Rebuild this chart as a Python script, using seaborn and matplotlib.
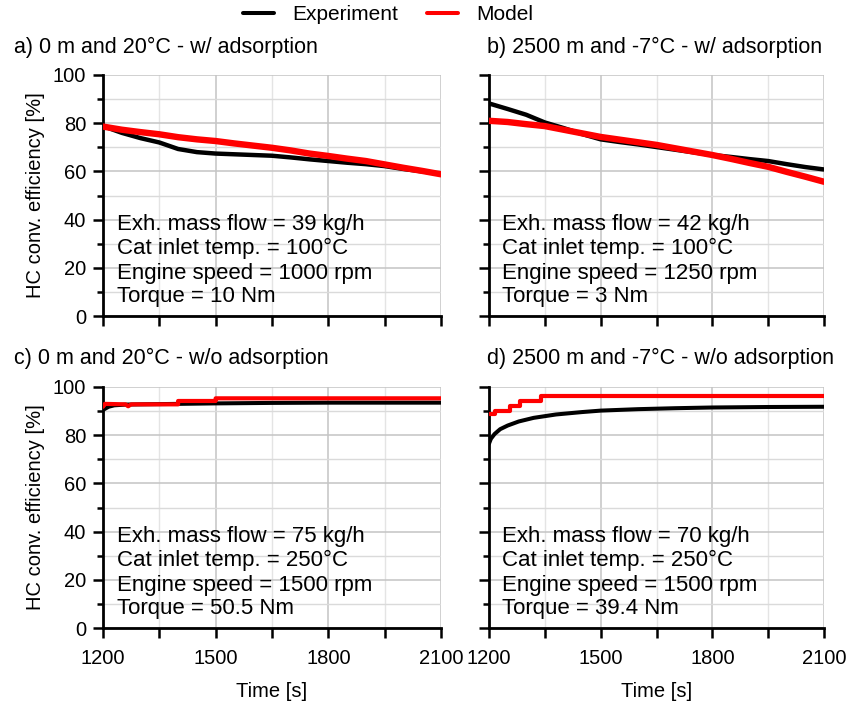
import numpy as np
import pandas as pd
import matplotlib
matplotlib.use("Agg")
import matplotlib.pyplot as plt
from matplotlib.lines import Line2D
from matplotlib.ticker import MultipleLocator
import seaborn as sns

# ---------------- data ----------------
t50 = [1200, 1250, 1300, 1350, 1400, 1450, 1500, 1550, 1600, 1650,
       1700, 1750, 1800, 1850, 1900, 1950, 2000, 2050, 2100]

a_exp = [78.8, 76.0, 73.8, 72.0, 69.3, 68.0, 67.4, 67.1, 66.8, 66.5,
         65.8, 65.0, 64.3, 63.6, 63.0, 62.2, 61.0, 60.0, 59.0]
a_mod = [78.6, 77.3, 76.3, 75.4, 74.2, 73.3, 72.6, 71.6, 70.7, 69.8,
         68.7, 67.4, 66.4, 65.3, 64.3, 62.9, 61.5, 60.2, 58.8]

b_exp = [88.2, 85.9, 83.5, 80.3, 78.0, 75.5, 73.3, 72.2, 71.2, 70.1,
         69.0, 67.9, 66.8, 66.0, 65.1, 64.3, 63.0, 61.8, 60.8]
b_mod = [81.0, 80.5, 79.6, 78.8, 77.3, 75.8, 74.3, 73.2, 72.1, 71.0,
         69.6, 68.2, 66.8, 65.2, 63.5, 61.9, 59.8, 57.8, 55.7]

c_exp_t = [1200, 1215, 1230, 1260, 1300, 1400, 1500, 1650, 1800, 1950, 2100]
c_exp = [90.5, 91.8, 92.4, 92.7, 92.8, 93.0, 93.2, 93.4, 93.5, 93.5, 93.5]
c_mod_t = [1200, 1205, 1260, 1267, 1275, 1400, 1400, 1500, 1500, 2100]
c_mod = [91.8, 93.0, 92.8, 92.0, 92.8, 92.8, 94.2, 94.2, 95.3, 95.3]

d_exp_t = [1200, 1205, 1215, 1230, 1250, 1280, 1320, 1380, 1450, 1500,
           1600, 1700, 1800, 1950, 2100]
d_exp = [76.5, 78.5, 80.5, 82.5, 84.0, 85.7, 87.2, 88.6, 89.6, 90.2,
         90.8, 91.2, 91.5, 91.7, 91.8]
d_mod_t = [1200, 1216, 1256, 1283, 1339, 2100]
d_mod = [89.0, 90.2, 92.2, 94.2, 96.2, 96.2]

titles = ["a) 0 m and 20°C - w/ adsorption",
          "b) 2500 m and -7°C - w/ adsorption",
          "c) 0 m and 20°C - w/o adsorption",
          "d) 2500 m and -7°C - w/o adsorption"]

infos = [["Exh. mass flow = 39 kg/h", "Cat inlet temp. = 100°C",
          "Engine speed = 1000 rpm", "Torque = 10 Nm"],
         ["Exh. mass flow = 42 kg/h", "Cat inlet temp. = 100°C",
          "Engine speed = 1250 rpm", "Torque = 3 Nm"],
         ["Exh. mass flow = 75 kg/h", "Cat inlet temp. = 250°C",
          "Engine speed = 1500 rpm", "Torque = 50.5 Nm"],
         ["Exh. mass flow = 70 kg/h", "Cat inlet temp. = 250°C",
          "Engine speed = 1500 rpm", "Torque = 39.4 Nm"]]

series = [
    ((t50, a_exp), (t50, a_mod), None),
    ((t50, b_exp), (t50, b_mod), None),
    ((c_exp_t, c_exp), (c_mod_t, c_mod), None),
    ((d_exp_t, d_exp), (d_mod_t, d_mod), "steps-post"),
]

# ---------------- style ----------------
sns.set_theme(style="white")
plt.rcParams["font.family"] = ["Liberation Sans", "DejaVu Sans"]
for k in ["text.color", "axes.labelcolor", "xtick.color", "ytick.color"]:
    plt.rcParams[k] = "black"
FS = 14.5
FS_TITLE = 15.5
FS_INFO = 16.0

W, H = 850, 709
fig = plt.figure(figsize=(W / 100, H / 100), dpi=100)

lefts = [103, 489]
rights = [441, 824]
tops = [75, 387]
bottoms = [316, 628]

axes = []
for r in range(2):
    for c in range(2):
        ax = fig.add_axes([lefts[c] / W, 1 - bottoms[r] / H,
                           (rights[c] - lefts[c]) / W,
                           (bottoms[r] - tops[r]) / H])
        axes.append(ax)

for i, ax in enumerate(axes):
    (te, ye), (tm, ym), ds = series[i]
    sns.lineplot(x=te, y=ye, ax=ax, color="black", lw=3.2 if i < 2 else 2.9,
                 estimator=None, sort=False, zorder=3)
    kw = {}
    if ds:
        kw["drawstyle"] = ds
    lw_red = 4.6 if i < 2 else 3.0
    sns.lineplot(x=tm, y=ym, ax=ax, color="#ff0000", lw=lw_red,
                 estimator=None, sort=False, zorder=4, **kw)

    ax.set_xlim(1200, 2100)
    ax.set_ylim(0, 100)
    ax.xaxis.set_major_locator(MultipleLocator(300))
    ax.xaxis.set_minor_locator(MultipleLocator(150))
    ax.yaxis.set_major_locator(MultipleLocator(20))
    ax.yaxis.set_minor_locator(MultipleLocator(10))

    ax.grid(True, which="major", axis="both", color="#c4c4c4", lw=1.1)
    ax.grid(True, which="minor", axis="y", color="#dadada", lw=1.0)
    ax.grid(True, which="minor", axis="x", color="#e4e4e4", lw=1.0)
    ax.set_axisbelow(True)

    for s in ["top", "right"]:
        ax.spines[s].set_visible(False)
    for s in ["left", "bottom"]:
        ax.spines[s].set_visible(True)
        ax.spines[s].set_color("black")
        ax.spines[s].set_linewidth(2.0)

    ax.tick_params(axis="both", which="both", direction="out", color="black",
                   width=1.8, labelsize=FS, left=True, bottom=True,
                   labelcolor="black")
    ax.tick_params(axis="y", which="major", length=7, pad=5)
    ax.tick_params(axis="y", which="minor", length=4)
    ax.tick_params(axis="x", which="major", length=7, pad=8)
    ax.tick_params(axis="x", which="minor", length=7)

    if i % 2 == 0:
        ax.set_ylabel("HC conv. efficiency [%]", fontsize=FS, labelpad=6,
                      color="black")
    else:
        ax.set_ylabel("")
        ax.set_yticklabels([])
    if i >= 2:
        ax.set_xlabel("Time [s]", fontsize=FS, labelpad=10, color="black")
    else:
        ax.set_xlabel("")
        ax.set_xticklabels([])

    for k, line in enumerate(infos[i]):
        ax.text(0.04, [0.378, 0.282, 0.178, 0.079][k], line,
                transform=ax.transAxes, fontsize=FS_INFO, va="center",
                ha="left", color="black")

# titles
title_pos = [(14, 47), (487, 47), (14, 358), (487, 358)]
for (x, y), t in zip(title_pos, titles):
    fig.text(x / W, 1 - y / H, t, fontsize=FS_TITLE, ha="left", va="center",
             color="black")

handles = [Line2D([0], [0], color="black", lw=2.9),
           Line2D([0], [0], color="#ff0000", lw=2.9)]
leg = fig.legend(handles, ["Experiment", "Model"], loc="center",
                 bbox_to_anchor=(388 / W, 1 - 15 / H), ncol=2, frameon=False,
                 fontsize=15, handlelength=1.5, columnspacing=1.35,
                 handletextpad=0.9)
for t in leg.get_texts():
    t.set_color("black")

fig.savefig("out.png", dpi=100)
